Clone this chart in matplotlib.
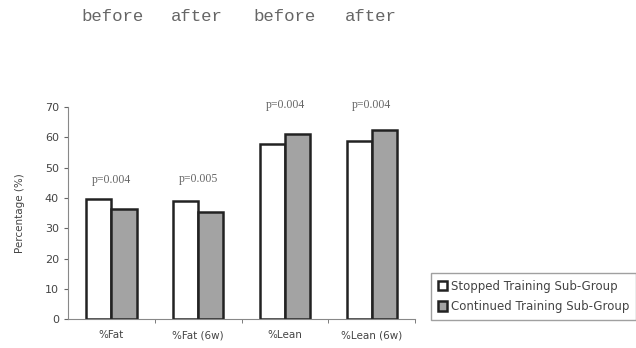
import matplotlib
matplotlib.use("Agg")
import matplotlib.pyplot as plt
import numpy as np

categories = ["%Fat", "%Fat (6w)", "%Lean", "%Lean (6w)"]
stopped = [39.8, 38.9, 57.8, 58.8]
continued = [36.3, 35.3, 61.2, 62.3]
pvals = ["p=0.004", "p=0.005", "p=0.004", "p=0.004"]
pval_y = [46.0, 46.2, 70.8, 70.8]
top_words = ["before", "after", "before", "after"]
top_x = [0.177, 0.310, 0.448, 0.583]

fig = plt.figure(figsize=(6.36, 3.48), dpi=100)
ax = fig.add_axes([0.107, 0.083, 0.546, 0.609])

x = np.arange(len(categories))
w = 0.29
txt = "#444444"
ax.bar(x - w / 2, stopped, w, color="white", edgecolor="#222222", linewidth=1.8,
       label="Stopped Training Sub-Group")
ax.bar(x + w / 2, continued, w, color="#a3a3a3", edgecolor="#222222", linewidth=1.8,
       label="Continued Training Sub-Group")

for i, (p, py) in enumerate(zip(pvals, pval_y)):
    ax.text(x[i], py, p, ha="center", va="center", fontsize=8.5, color="#666666",
            family="Liberation Serif", clip_on=False)

ax.set_xlim(-0.5, 3.5)
ax.set_ylim(0, 70)
ax.set_yticks(range(0, 71, 10))
ax.set_xticks(x)
ax.set_xticklabels(categories)
ax.set_xticks(np.arange(0.5, 4.0, 1.0), minor=True)
ax.tick_params(axis="x", which="major", length=0, pad=8, labelsize=7.5, labelcolor=txt)
ax.tick_params(axis="x", which="minor", length=3, color="#666666")
ax.tick_params(axis="y", length=3, labelsize=8, labelcolor=txt, color="#666666")
ax.spines["top"].set_visible(False)
ax.spines["right"].set_visible(False)
ax.spines["left"].set_color("#888888")
ax.spines["bottom"].set_color("#888888")
ax.set_ylabel("Percentage (%)", fontsize=7.5, color=txt, labelpad=14)

for wd, tx in zip(top_words, top_x):
    fig.text(tx, 0.953, wd, ha="center", va="center", fontsize=12.5,
             family="Liberation Mono", color="#666666")

leg = fig.legend(loc="lower left", bbox_to_anchor=(0.668, 0.063), fontsize=8.5,
                 frameon=True, fancybox=False, edgecolor="#888888",
                 handlelength=0.8, handleheight=0.8, handletextpad=0.3,
                 borderpad=0.6, labelspacing=0.6)
for t in leg.get_texts():
    t.set_color(txt)

fig.savefig("out.png", dpi=100)
